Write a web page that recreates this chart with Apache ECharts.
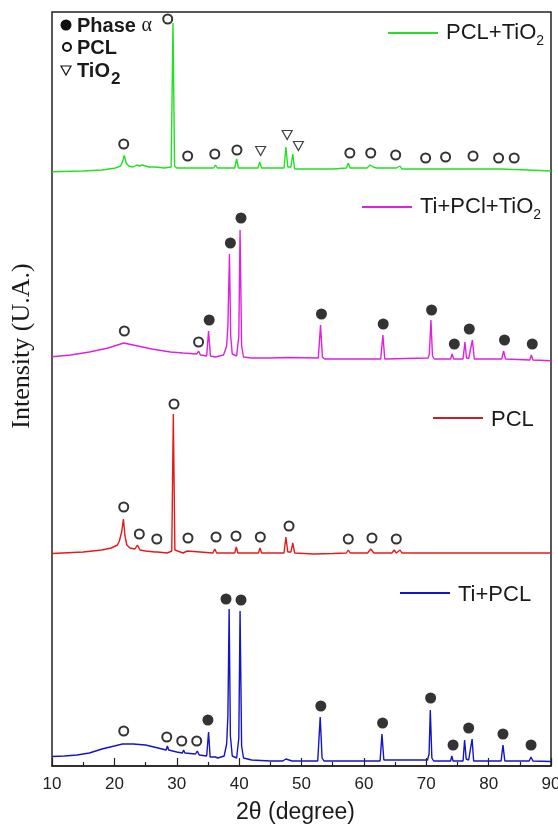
<!DOCTYPE html>
<html>
<head>
<meta charset="utf-8">
<script src="https://cdn.jsdelivr.net/npm/echarts@6/dist/echarts.min.js"></script>
<style>
    html, body { margin: 0; padding: 0; background: #fff; }
    #chart { width: 558px; height: 826px; }
</style>
</head>
<body>
<div id="chart"></div>
<script>
    // 2theta (degree), intensity (arbitrary units, curves already offset)
    var tiPcl = [[10,9.5],[12,10],[14,11],[16,13],[18,17],[20,20],[21.3,22],[21.5,24],[21.7,22],[23,22],[25,21],[27,18],[28.3,16],[28.5,20],[28.7,16],[30,14],[30.9,13],[31.1,16],[31.3,13],[33.0,12],[33.3,15],[33.6,11],[34.8,10],[35.1,34],[35.35,9],[36.2,9],[36.4,11],[36.6,8],[37.6,10],[38.0,22],[38.2,50],[38.4,157],[38.6,30],[38.9,10],[39.6,8],[39.95,28],[40.15,155],[40.4,20],[40.7,8],[42,6],[45,5],[47,5],[47.5,7],[48.5,5],[52.6,5],[53.0,49],[53.3,8],[53.6,5],[60,5],[62.6,5],[62.9,32],[63.2,6],[63.5,5],[70.2,6],[70.45,12],[70.65,56],[70.9,8],[71.2,5],[73.9,5],[74.1,10],[74.3,5],[75.9,5],[76.15,26],[76.4,7],[76.8,6],[77.1,7],[77.35,27],[77.6,5],[82.0,5],[82.3,21],[82.6,5],[86.5,5],[86.8,9],[87.1,5],[90,4.5]];
    var pcl = [[10,212.5],[15,214],[18,216],[19.5,218],[20.5,221],[20.8,225],[21.2,235],[21.45,247],[21.7,230],[22.0,221],[22.5,218],[23.3,217],[23.7,221],[24.1,216],[25,215],[26.5,214],[26.7,216],[26.9,214],[28.5,213],[29.2,215],[29.45,352],[29.7,216],[30,214],[31,213],[31.7,215],[32,213],[35.8,213],[36.1,217],[36.4,213],[39.3,213],[39.55,219],[39.8,213],[43.1,213],[43.35,218],[43.6,213],[47.2,213],[47.5,229],[47.8,214],[48.3,214],[48.6,223],[48.9,213],[52,212],[55,212.5],[57.2,213],[57.5,216],[57.8,213],[60.6,213],[61.1,217],[61.6,213],[64.5,213],[64.85,216],[65.2,213],[65.5,213],[65.8,216],[66.1,213],[70,213],[70.3,214],[70.6,213],[77.1,213],[77.4,215],[77.7,213],[81.5,213],[81.8,214.5],[82.1,213],[90,213]];
    var tiPclTio2 = [[10,409.3],[13,411],[16,414],[19,418],[21.5,423],[21.7,424],[23,421],[26,417],[29,414],[31,413],[33.2,412],[33.5,415],[33.8,411],[34.8,410],[35.1,435],[35.4,410],[36.2,409],[37.5,411],[38.0,420],[38.2,440],[38.45,512],[38.65,430],[38.9,412],[39.6,410],[39.95,430],[40.15,536],[40.4,420],[40.7,409],[42,408],[45,408],[47.5,408.5],[52.7,408],[53.05,441],[53.35,409],[53.7,407],[62.7,407],[63.05,431],[63.35,407],[70.3,408],[70.5,412],[70.75,446],[71,410],[71.3,407],[73.9,407],[74.15,412],[74.4,407],[75.9,407],[76.2,424],[76.45,408],[76.8,407.5],[77.1,408],[77.4,426],[77.7,407],[82.1,407],[82.4,415],[82.7,407],[86.6,406],[86.85,411],[87.1,406],[90,405.3]];
    var pclTio2 = [[10,594.3],[15,595],[18,596],[20,597.7],[21.0,600],[21.4,606],[21.6,610.7],[21.9,603],[22.3,600],[23,599],[23.6,601],[24,600],[24.5,601],[25.5,599],[26.5,599],[28,598],[29.1,599],[29.4,743],[29.65,600],[30,598],[31.3,598],[31.6,600],[31.9,598],[35.9,598],[36.2,601],[36.5,598],[39.3,598],[39.6,607],[39.9,598],[43.0,598],[43.3,604],[43.6,598],[47.2,598],[47.5,619],[47.8,599],[48.3,599],[48.6,612],[48.9,597],[52,597],[55,597],[57.2,598],[57.5,603],[57.8,598],[60.5,598],[61.0,601],[61.5,599],[62,598],[64.6,598],[64.9,600],[65.2,598],[65.5,598],[65.8,600],[66.1,597],[69.9,597],[70.2,598.5],[70.5,597],[72.7,597],[73,598.5],[73.3,597],[77,597],[77.3,599],[77.6,597],[81.4,597],[81.7,598.5],[82,597],[83.8,596.5],[84.1,598],[84.4,596.5],[90,595]];

    // peak markers
    var alphaMarks = [[37.9,167],[40.3,166],[35.0,46],[53.1,60],[63.0,43],[70.7,68],[74.3,21],[76.8,38],[82.3,32],[86.8,21],
        [35.2,446],[38.6,523],[40.3,548],[53.2,452],[63.1,442],[70.85,456],[74.5,422],[76.9,437],[82.55,426],[87.0,422]];
    var pclMarks = [[21.5,35],[28.4,29],[30.8,25],[33.2,25],
        [21.5,259],[24.0,232],[26.8,227],[29.56,362],[31.8,228],[36.3,229],[39.5,230],[43.4,229],[48.0,240],[57.5,227],[61.3,228],[65.2,227],
        [21.6,435],[33.5,424],
        [21.5,622],[28.55,747],[31.75,610],[36.1,612],[39.65,616],[57.75,613],[61.1,613],[65.1,611],[69.9,608],[73.1,609],[77.5,610],[81.6,608],[84.1,608]];
    var tio2Marks = [[43.45,615],[47.7,631],[49.5,620]];

    var xTicks = [10, 20, 30, 40, 50, 60, 70, 80, 90];

    var subRich = {
        m: {fontSize: 22, fontFamily: 'Liberation Sans', color: '#1a1a1a', verticalAlign: 'top', padding: [4, 0, 0, 0]},
        s: {fontSize: 14, fontFamily: 'Liberation Sans', color: '#1a1a1a', verticalAlign: 'bottom', padding: [16, 0, 0, 0]}
    };

    function legendLabel(name) {
        if (name.slice(-1) === '2') {
            return '{m|' + name.slice(0, -1) + '}{s|2}';
        }
        return '{m|' + name + '}';
    }

    function makeLegend(name, left, top) {
        return {
            data: [name],
            left: left,
            top: top,
            padding: 0,
            icon: 'rect',
            itemWidth: 50,
            itemHeight: 2,
            selectedMode: false,
            formatter: legendLabel,
            textStyle: {rich: subRich, padding: [0, 0, 0, 3]}
        };
    }

    var myChart = echarts.init(document.getElementById('chart'));
    var option = {
        animation: false,
        backgroundColor: '#fff',
        textStyle: {fontFamily: 'Liberation Sans'},
        grid: {
            left: 52,
            right: 7,
            top: 12,
            bottom: 60,
            outerBoundsMode: 'none',
            containLabel: false,
            show: true,
            borderColor: '#222',
            borderWidth: 1.5
        },
        legend: [
            makeLegend('PCL+TiO2', 388, 22),
            makeLegend('Ti+PCl+TiO2', 362, 196),
            makeLegend('PCL', 433, 409),
            makeLegend('Ti+PCL', 400, 584)
        ],
        xAxis: {
            type: 'value',
            min: 10,
            max: 90,
            interval: 10,
            name: '2θ (degree)',
            nameLocation: 'middle',
            nameGap: 35,
            nameTextStyle: {fontSize: 23, color: '#1a1a1a', padding: [0, 12, 0, 0]},
            axisLine: {lineStyle: {color: '#222', width: 1.5}},
            axisTick: {inside: true, length: 8, lineStyle: {color: '#222', width: 1.2}},
            minorTick: {show: true, splitNumber: 2, length: 4, lineStyle: {color: '#222', width: 1.2}},
            splitLine: {show: false},
            axisLabel: {
                fontSize: 17,
                color: '#222',
                margin: 10,
                formatter: function (v) { return xTicks.indexOf(v) >= 0 ? String(v) : ''; }
            }
        },
        yAxis: {
            type: 'value',
            min: 0,
            max: 754,
            show: false
        },
        graphic: [
            {type: 'circle', shape: {cx: 66, cy: 25, r: 5.5}, style: {fill: '#111'}},
            {type: 'text', x: 77, y: 26, style: {
                text: '{b|Phase }{g|α}', verticalAlign: 'middle',
                rich: {
                    b: {fontSize: 20, fontWeight: 'bold', fontFamily: 'Liberation Sans', fill: '#1a1a1a'},
                    g: {fontSize: 20, fontFamily: 'Liberation Serif', fill: '#1a1a1a'}
                }
            }},
            {type: 'circle', shape: {cx: 67, cy: 47, r: 4}, style: {fill: '#fff', stroke: '#111', lineWidth: 2}},
            {type: 'text', x: 77, y: 48, style: {text: 'PCL', fontSize: 20, fontWeight: 'bold', fontFamily: 'Liberation Sans', fill: '#1a1a1a', verticalAlign: 'middle'}},
            {type: 'polygon', shape: {points: [[61, 66], [71, 66], [66, 75]]}, style: {fill: 'none', stroke: '#111', lineWidth: 1.2}},
            {type: 'text', x: 77, y: 61, style: {
                text: '{m|TiO}{s|2}',
                rich: {
                    m: {fontSize: 20, fontWeight: 'bold', fontFamily: 'Liberation Sans', fill: '#1a1a1a', verticalAlign: 'top', lineHeight: 20},
                    s: {fontSize: 17, fontWeight: 'bold', fontFamily: 'Liberation Sans', fill: '#1a1a1a', verticalAlign: 'bottom', padding: [10, 0, 0, 1]}
                }
            }},
            {type: 'text', x: 22, y: 346, rotation: Math.PI / 2, style: {
                text: 'Intensity (U.A.)', fontSize: 26, fontFamily: 'Liberation Serif', fill: '#1a1a1a',
                align: 'center', verticalAlign: 'middle'
            }}
        ],
        series: [
            {name: 'Ti+PCL', type: 'line', data: tiPcl, showSymbol: false, sampling: 'none', lineStyle: {color: '#1414c8', width: 1.4}, itemStyle: {color: '#1414c8'}},
            {name: 'PCL', type: 'line', data: pcl, showSymbol: false, sampling: 'none', lineStyle: {color: '#e41b1b', width: 1.4}, itemStyle: {color: '#c82020'}},
            {name: 'Ti+PCl+TiO2', type: 'line', data: tiPclTio2, showSymbol: false, sampling: 'none', lineStyle: {color: '#e020e0', width: 1.4}, itemStyle: {color: '#e020e0'}},
            {name: 'PCL+TiO2', type: 'line', data: pclTio2, showSymbol: false, sampling: 'none', lineStyle: {color: '#22e022', width: 1.4}, itemStyle: {color: '#22e022'}},
            {name: 'alpha', type: 'scatter', data: alphaMarks, symbol: 'circle', symbolSize: 11, z: 5, itemStyle: {color: '#000'}},
            {name: 'pclMark', type: 'scatter', data: pclMarks, symbol: 'emptyCircle', symbolSize: 9, z: 5, itemStyle: {color: '#000', borderWidth: 2}},
            {name: 'tio2Mark', type: 'scatter', data: tio2Marks, symbol: 'path://M0,0L10,0L5,9Z', symbolSize: [10, 9], z: 5,
                itemStyle: {color: 'rgba(0,0,0,0)', borderColor: '#111', borderWidth: 1.2}}
        ]
    };
    option && myChart.setOption(option);
</script>
</body>
</html>
